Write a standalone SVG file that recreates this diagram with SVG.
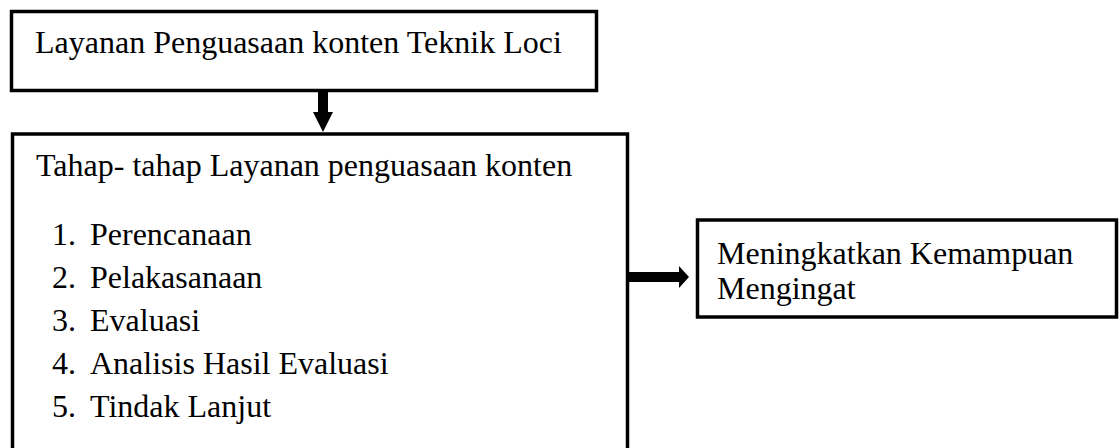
<svg xmlns="http://www.w3.org/2000/svg" width="1119" height="448" viewBox="0 0 1119 448">
<style>
.box{fill:#fff;stroke:#000;stroke-width:3.5}
.t{font-family:"Liberation Serif","Times New Roman",serif;font-size:32px;fill:#000}
</style>
<rect width="1119" height="448" fill="#fff"/>
<g id="node-top">
<rect class="box" x="11.5" y="11.5" width="585" height="79"/>
<text class="t" x="35" y="53">Layanan Penguasaan konten Teknik Loci</text>
</g>
<g id="node-main">
<rect class="box" x="12.5" y="134" width="615" height="340"/>
<text class="t" x="36" y="176">Tahap- tahap Layanan penguasaan konten</text>
<text class="t" x="52" y="245">1.</text><text class="t" x="90" y="245">Perencanaan</text>
<text class="t" x="52" y="288">2.</text><text class="t" x="90" y="288">Pelakasanaan</text>
<text class="t" x="52" y="331">3.</text><text class="t" x="90" y="331">Evaluasi</text>
<text class="t" x="52" y="374">4.</text><text class="t" x="90" y="374">Analisis Hasil Evaluasi</text>
<text class="t" x="52" y="417">5.</text><text class="t" x="90" y="417">Tindak Lanjut</text>
</g>
<g id="node-right">
<rect class="box" x="697.5" y="220" width="419" height="97"/>
<text class="t" x="717" y="264">Meningkatkan Kemampuan</text>
<text class="t" x="717" y="299">Mengingat</text>
</g>
<g id="connectors">
<polygon points="318,90 328,90 328,112 333,112 323,132 313,112 318,112" fill="#000"/>
<polygon points="627,272 679,272 679,266 689,277 679,288 679,282 627,282" fill="#000"/>
</g>
</svg>
